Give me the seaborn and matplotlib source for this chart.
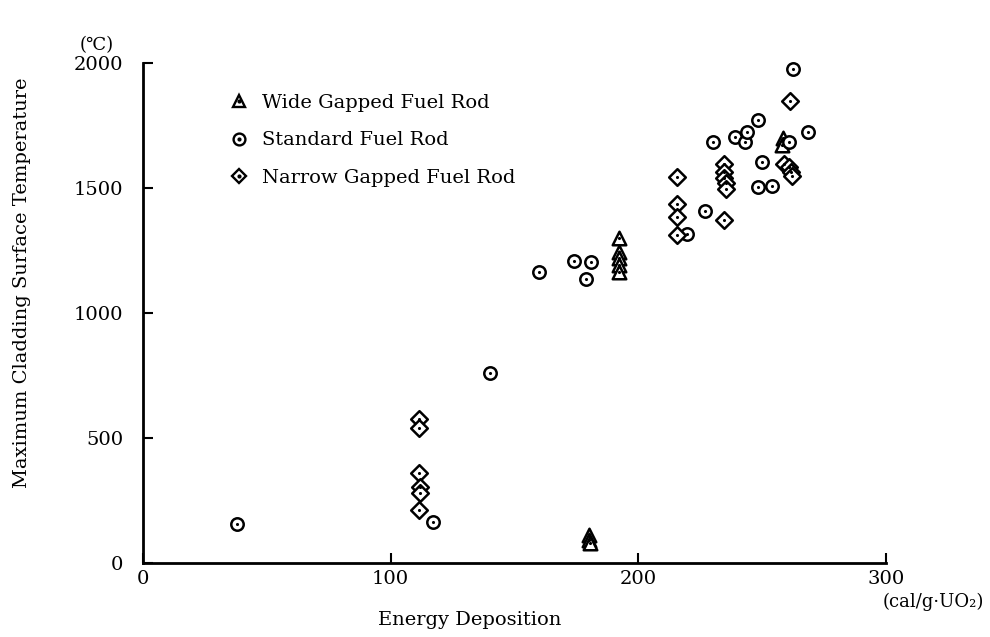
import matplotlib
matplotlib.use("Agg")
import matplotlib.pyplot as plt
from matplotlib.lines import Line2D
from matplotlib.legend_handler import HandlerTuple
import numpy as np
import pandas as pd
import seaborn as sns

# Energy deposition (cal/g-UO2) and peak cladding surface temperature (deg C)
wide_x = [180.2, 180.3, 180.5, 192.3, 192.3, 192.3, 192.3, 192.3, 258.5, 258.2]
wide_y = [110, 92, 78, 1299, 1245, 1219, 1192, 1165, 1699, 1672]

standard_x = [38, 117, 140, 160, 174, 179, 181, 219.5, 227, 230, 239, 243,
              244, 248.5, 250, 248.5, 254, 261, 262.5, 268.5]
standard_y = [155, 165, 760, 1163, 1207, 1137, 1202, 1315, 1408, 1685, 1703, 1684,
              1725, 1772, 1603, 1505, 1509, 1683, 1975, 1722]

narrow_x = [111.5, 111.5, 111.5, 112, 111.8, 111.5, 215.8, 215.6, 215.8, 215.5,
            234.8, 234.8, 234.8, 235.3, 235.3, 234.7, 259, 261, 261.5, 262, 261.4]
narrow_y = [575, 541, 359, 303, 279, 212, 1545, 1436, 1383, 1310,
            1595, 1565, 1540, 1518, 1495, 1372, 1595, 1585, 1565, 1548, 1848]

series_labels = ["Wide Gapped Fuel Rod", "Standard Fuel Rod", "Narrow Gapped Fuel Rod"]
x_ticks = [0, 100, 200, 300]
y_ticks = [0, 500, 1000, 1500, 2000]

df = pd.concat([
    pd.DataFrame({"energy": wide_x, "temp": wide_y, "rod": series_labels[0]}),
    pd.DataFrame({"energy": standard_x, "temp": standard_y, "rod": series_labels[1]}),
    pd.DataFrame({"energy": narrow_x, "temp": narrow_y, "rod": series_labels[2]}),
], ignore_index=True)

sns.set_style("ticks")
plt.rcParams["font.family"] = ["DejaVu Serif", "DejaVu Sans"]
plt.rcParams["mathtext.fontset"] = "dejavuserif"
plt.rcParams["text.color"] = "black"
plt.rcParams["axes.labelcolor"] = "black"
plt.rcParams["xtick.color"] = "black"
plt.rcParams["ytick.color"] = "black"

fig = plt.figure(figsize=(9.9, 6.37), dpi=100)
ax = fig.add_axes([0.1444, 0.1162, 0.7505, 0.7849])

markers = {series_labels[0]: "^", series_labels[1]: "o", series_labels[2]: "D"}
sizes = {series_labels[0]: 95, series_labels[1]: 80, series_labels[2]: 72}

for rod, grp in df.groupby("rod", sort=False):
    sns.scatterplot(data=grp, x="energy", y="temp", marker=markers[rod],
                    s=sizes[rod], color="white", edgecolor="black",
                    linewidth=1.8, ax=ax, clip_on=False, zorder=3)
    # small centre dot inside each open marker
    sns.scatterplot(data=grp, x="energy", y="temp", marker="o", s=5,
                    color="black", edgecolor="black", linewidth=0,
                    ax=ax, clip_on=False, zorder=4)

ax.set_xlim(0, 300)
ax.set_ylim(0, 2000)
ax.set_xticks(x_ticks)
ax.set_yticks(y_ticks)
ax.set_xticklabels([str(v) for v in x_ticks])
ax.set_yticklabels([str(v) for v in y_ticks])
ax.set_xlabel("")
ax.set_ylabel("")
sns.despine(ax=ax)
for side in ("left", "bottom"):
    ax.spines[side].set_linewidth(2.0)
    ax.spines[side].set_color("black")
ax.tick_params(direction="in", length=7, width=1.5, colors="black",
               labelsize=14)
ax.tick_params(axis="y", pad=14)
ax.tick_params(axis="x", pad=5)

# legend with centre-dotted markers
handles = []
for rod in series_labels:
    outer = Line2D([], [], linestyle="none", marker=markers[rod],
                   markersize=8.5 if rod != series_labels[2] else 7.5,
                   markerfacecolor="white", markeredgecolor="black",
                   markeredgewidth=1.7)
    dot = Line2D([], [], linestyle="none", marker="o", markersize=2,
                 markerfacecolor="black", markeredgecolor="black")
    handles.append((outer, dot))
ax.legend(handles, series_labels, handler_map={tuple: HandlerTuple(ndivide=1)},
          loc="upper left", bbox_to_anchor=(0.214, 0.88), bbox_transform=fig.transFigure,
          frameon=False, fontsize=14, handlelength=1.0, handletextpad=0.7,
          labelspacing=1.0)

fig.text(97 / 990, 1 - 45 / 637, "(\u2103)", ha="center", va="center", fontsize=13)
fig.text(984 / 990, 1 - 602 / 637, "(cal/g\u00b7UO\u2082)", ha="right", va="center",
         fontsize=13)
fig.text(470 / 990, 1 - 620 / 637, "Energy Deposition", ha="center", va="center",
         fontsize=14)
fig.text(22 / 990, 1 - 283 / 637, "Maximum Cladding Surface Temperature",
         ha="center", va="center", rotation=90, fontsize=14)

fig.savefig("out.png", dpi=100, facecolor="white")
